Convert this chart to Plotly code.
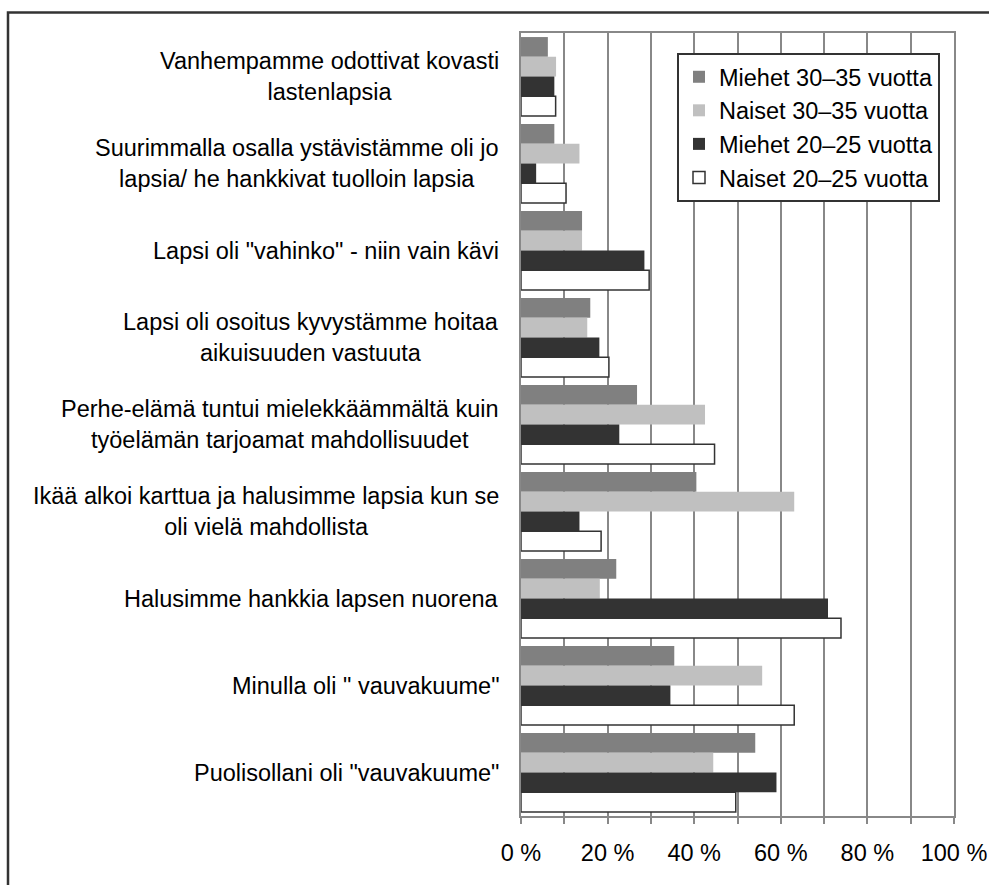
import plotly.graph_objects as go

categories = [
    "Vanhempamme odottivat kovasti<br>lastenlapsia",
    "Suurimmalla osalla ystävistämme oli jo<br>lapsia/ he hankkivat tuolloin lapsia",
    'Lapsi oli "vahinko" - niin vain kävi',
    "Lapsi oli osoitus kyvystämme hoitaa<br>aikuisuuden vastuuta",
    "Perhe-elämä tuntui mielekkäämmältä kuin<br>työelämän tarjoamat mahdollisuudet",
    "Ikää alkoi karttua ja halusimme lapsia kun se<br>oli vielä mahdollista",
    "Halusimme hankkia lapsen nuorena",
    'Minulla oli " vauvakuume"',
    'Puolisollani oli "vauvakuume"',
]

series_names = ["Miehet 30–35 vuotta", "Naiset 30–35 vuotta",
                "Miehet 20–25 vuotta", "Naiset 20–25 vuotta"]

miehet_30_35 = [6.2, 7.7, 14.1, 16.0, 26.8, 40.5, 22.0, 35.4, 54.1]
naiset_30_35 = [8.1, 13.5, 14.1, 15.3, 42.5, 63.1, 18.2, 55.7, 44.4]
miehet_20_25 = [7.7, 3.5, 28.5, 18.1, 22.7, 13.5, 70.9, 34.5, 59.0]
naiset_20_25 = [8.0, 10.4, 29.6, 20.3, 44.7, 18.5, 73.9, 63.1, 49.6]

tick_values = [0, 20, 40, 60, 80, 100]
tick_labels = ["0 %", "20 %", "40 %", "60 %", "80 %", "100 %"]

series_values = [miehet_30_35, naiset_30_35, miehet_20_25, naiset_20_25]
fills = ["#808080", "#c0c0c0", "#333333", "#ffffff"]
lines = ["#808080", "#c0c0c0", "#333333", "#333333"]
lwidths = [0, 0, 0, 1.5]

FONT = "Arial, Liberation Sans, sans-serif"
FS = 23.5

fig = go.Figure()
for name, vals, fc, lc, lw in zip(series_names, series_values, fills, lines, lwidths):
    fig.add_trace(go.Bar(
        y=categories, x=vals, name=name, orientation="h",
        marker=dict(color=fc, line=dict(color=lc, width=lw)),
    ))

W, H = 989, 885
ml, mr, mt, mb = 521, 35, 33, 69
pw = W - ml - mr
ph = H - mt - mb

def px_x(x):
    return (x - ml) / pw

def px_y(y):
    return (H - mb - y) / ph

annotations = []
for c in categories:
    annotations.append(dict(
        x=px_x(501), xref="paper", y=c, yref="y",
        text=c, showarrow=False, xanchor="right", align="center",
        font=dict(family=FONT, size=FS, color="#000000"),
    ))

fig.update_layout(
    width=W, height=H,
    margin=dict(l=ml, r=mr, t=mt, b=mb, autoexpand=False),
    paper_bgcolor="#ffffff", plot_bgcolor="#ffffff",
    barmode="group", bargap=0.093, bargroupgap=0,
    font=dict(family=FONT, size=FS, color="#000000"),
    showlegend=True,
    legend=dict(
        x=px_x(677), y=px_y(53), xanchor="left", yanchor="top",
        bgcolor="#ffffff", bordercolor="#333333", borderwidth=2,
        font=dict(family=FONT, size=FS, color="#000000"),
        traceorder="normal",
    ),
    annotations=annotations,
    shapes=[dict(
        type="rect", xref="paper", yref="paper",
        x0=px_x(8), x1=px_x(1010),
        y0=px_y(910), y1=px_y(12.5),
        line=dict(color="#333333", width=2.5), fillcolor="rgba(0,0,0,0)",
        layer="below",
    )],
    xaxis=dict(
        range=[0, 100], tickvals=tick_values, ticktext=tick_labels,
        showgrid=True, gridcolor="#888888", gridwidth=2,
        showline=True, linecolor="#888888", linewidth=2, mirror=True,
        ticks="outside", ticklen=6, tickcolor="#888888", tickwidth=2,
        minor=dict(dtick=10, showgrid=True, gridcolor="#888888", gridwidth=2,
                   ticks="outside", ticklen=6, tickcolor="#888888", tickwidth=2),
        tickfont=dict(family=FONT, size=FS, color="#000000"),
        ticklabelstandoff=9,
        zeroline=False, fixedrange=True, automargin=False,
    ),
    yaxis=dict(
        autorange="reversed", showticklabels=False,
        showline=True, linecolor="#888888", linewidth=2, mirror=True,
        showgrid=False, ticks="", fixedrange=True, automargin=False,
    ),
)

fig.write_html(
    "out.html",
    config={"displayModeBar": False},
    post_script="document.body.style.margin='0';document.body.style.overflow='hidden';",
)
